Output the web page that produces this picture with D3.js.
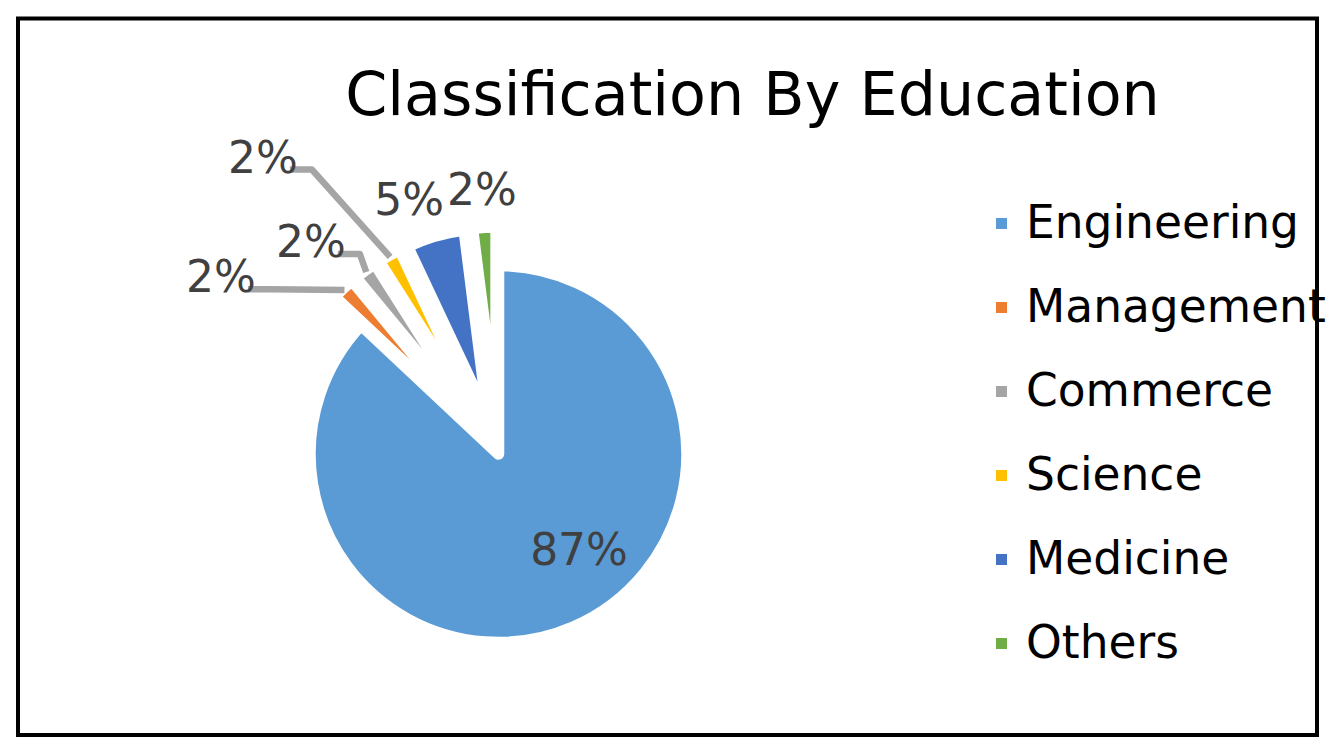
<!DOCTYPE html>
<html>
<head>
<meta charset="utf-8">
<script src="https://cdn.jsdelivr.net/npm/d3@7"></script>
<style>
  html, body { margin: 0; padding: 0; background: #ffffff; }
  svg { display: block; font-family: "DejaVu Sans", sans-serif; }
</style>
</head>
<body>
<svg id="chart" width="1332" height="750"></svg>
<script>
// ---- data ----
const categories = ["Engineering", "Management", "Commerce", "Science", "Medicine", "Others"];
const values = [87, 2, 2, 2, 5, 2];
const colors = ["#5b9bd5", "#ed7d31", "#a5a5a5", "#ffc000", "#4472c4", "#70ad47"];
const title = "Classification By Education";

// ---- layout ----
const W = 1332, H = 750;
const cx = 498.5, cy = 454, R = 188.5;
const explode = [0, 38.5, 38.5, 38.5, 38.5, 38.5];
// label placement (polar, relative to pie centre): angle in degrees clockwise from 12 o'clock, distance in px
const labelPolar = [[139.7, 124.5], [302.6, 329.4], [318.6, 283.8], [321.6, 379.4], [340.7, 270.3], [356.4, 265.5]];
const hasLeader = [false, true, true, true, false, false];

const svg = d3.select("#chart");

svg.append("rect").attr("x", 0).attr("y", 0).attr("width", W).attr("height", H).attr("fill", "#fff");

// title
svg.append("text")
  .attr("x", 752.5).attr("y", 115)
  .attr("text-anchor", "middle")
  .attr("font-size", 60.3)
  .attr("fill", "#000")
  .text(title);

const pie = d3.pie().sort(null).value(d => d).startAngle(0).endAngle(2 * Math.PI);
const arcs = pie(values);
const arc = d3.arc().innerRadius(0).outerRadius(R);

const dirOf = a => [Math.sin(a), -Math.cos(a)];

const g = svg.append("g").attr("transform", `translate(${cx},${cy})`);

g.selectAll("path.slice")
  .data(arcs)
  .enter().append("path")
  .attr("class", "slice")
  .attr("d", arc)
  .attr("transform", (d, i) => {
    const m = (d.startAngle + d.endAngle) / 2;
    const [ux, uy] = dirOf(m);
    return `translate(${ux * explode[i]},${uy * explode[i]})`;
  })
  .attr("fill", (d, i) => colors[i])
  .attr("stroke", "#fff")
  .attr("stroke-width", 11.5)
  .attr("stroke-linejoin", "round");

// labels
const fs = 44;
const fmt = d3.format(".0%");
const total = d3.sum(values);

arcs.forEach((d, i) => {
  const a = labelPolar[i][0] * Math.PI / 180;
  const r = labelPolar[i][1];
  const [ux, uy] = dirOf(a);
  const lx = ux * r, ly = uy * r + 0.36 * fs;
  if (hasLeader[i]) {
    const m = (d.startAngle + d.endAngle) / 2;
    const [mx, my] = dirOf(m);
    const tx = mx * (explode[i] + R - 2), ty = my * (explode[i] + R - 2);
    const sx = lx + 27, sy = ly - 3;
    const hx = sx + 22;
    g.append("path")
      .attr("d", d3.line()([[sx, sy], [hx, sy], [tx, ty]]))
      .attr("fill", "none")
      .attr("stroke", "#a5a5a5")
      .attr("stroke-width", 6.5)
      .attr("stroke-linejoin", "round");
  }
  g.append("text")
    .attr("x", lx).attr("y", ly)
    .attr("text-anchor", "middle")
    .attr("font-size", fs)
    .attr("fill", "#404040")
    .text(fmt(values[i] / total));
});

// legend
const legend = svg.append("g");
const legY = d3.scalePoint().domain(categories).range([238, 658]);
categories.forEach((c, i) => {
  const y = legY(c);
  legend.append("rect")
    .attr("x", 996).attr("y", y - 20).attr("width", 11).attr("height", 11)
    .attr("fill", colors[i]);
  legend.append("text")
    .attr("x", 1026).attr("y", y)
    .attr("font-size", 45.5)
    .attr("fill", "#000")
    .text(c);
});

// border
svg.append("rect")
  .attr("x", 18).attr("y", 18.5)
  .attr("width", 1299).attr("height", 716.5)
  .attr("fill", "none")
  .attr("stroke", "#000")
  .attr("stroke-width", 4);
</script>
</body>
</html>
